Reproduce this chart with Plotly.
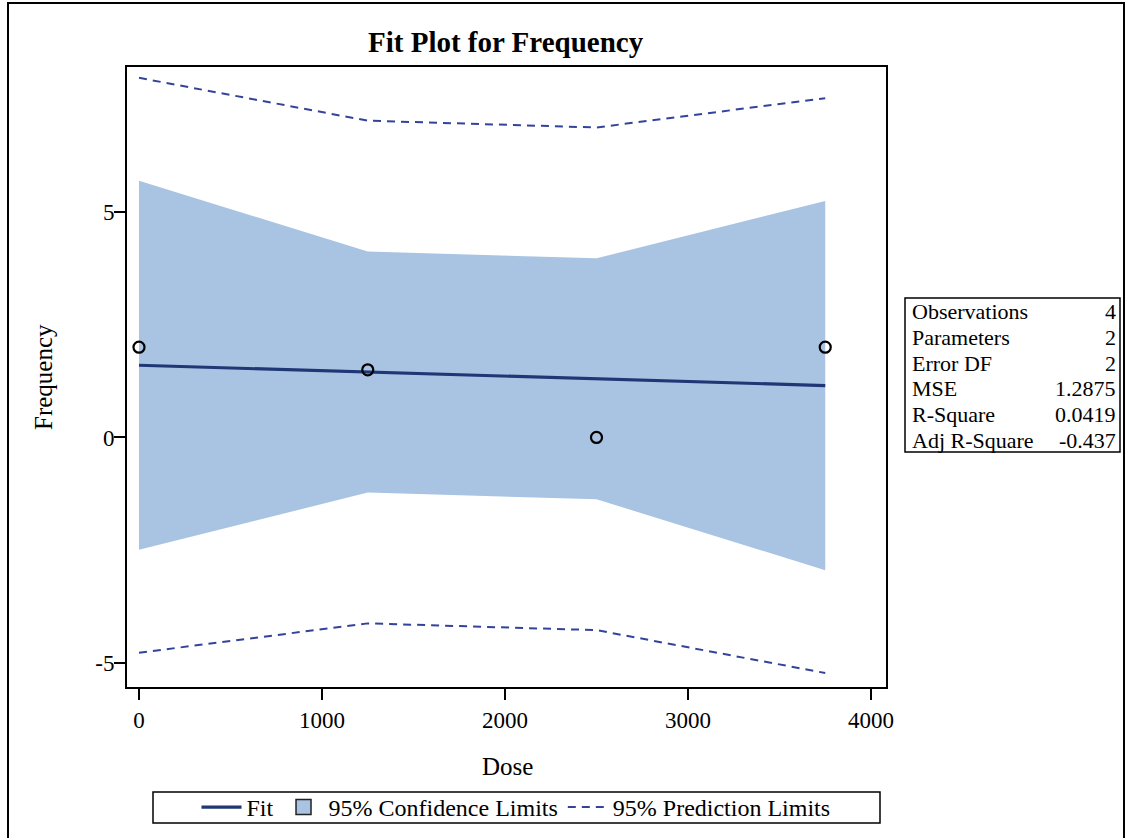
import plotly.graph_objects as go

# ---- data ----
dose = [0, 1250, 2500, 3750]
frequency = [2.0, 1.5, 0.0, 2.0]
fit = [1.60, 1.45, 1.30, 1.15]
ci_upper = [5.69, 4.12, 3.97, 5.24]
ci_lower = [-2.49, -1.22, -1.37, -2.94]
pi_upper = [7.97, 7.02, 6.87, 7.52]
pi_lower = [-4.77, -4.12, -4.27, -5.22]

x_ticks = [0, 1000, 2000, 3000, 4000]
y_ticks = [-5, 0, 5]
y_tick_text = ["-5", "0", "5"]

stat_labels = ["Observations", "Parameters", "Error DF", "MSE", "R-Square", "Adj R-Square"]
stat_values = ["4", "2", "2", "1.2875", "0.0419", "-0.437"]

FONT = "Liberation Serif, Times New Roman, serif"
FIT_COLOR = "#1f3774"
PI_COLOR = "#34439a"
CI_FILL = "#a9c4e3"

W, H = 1126, 838
L, R, T, B = 127, 886, 67, 687  # plot area in pixels


def px(xp):
    return (xp - L) / (R - L)


def py(yp):
    return (B - yp) / (B - T)


fig = go.Figure()

fig.add_trace(go.Scatter(x=dose, y=ci_lower, mode="lines",
                         line=dict(width=0, color=CI_FILL),
                         showlegend=False, hoverinfo="skip"))
fig.add_trace(go.Scatter(x=dose, y=ci_upper, mode="lines", fill="tonexty",
                         fillcolor=CI_FILL, line=dict(width=0, color=CI_FILL),
                         name="95% Confidence Limits", legendgroup="ci", showlegend=False))
fig.add_trace(go.Scatter(x=dose, y=pi_upper, mode="lines",
                         line=dict(color=PI_COLOR, width=2, dash="8px,6px"),
                         name="95% Prediction Limits", legendgroup="pi", legendrank=3))
fig.add_trace(go.Scatter(x=dose, y=pi_lower, mode="lines",
                         line=dict(color=PI_COLOR, width=2, dash="8px,6px"),
                         name="95% Prediction Limits", legendgroup="pi", showlegend=False))
fig.add_trace(go.Scatter(x=dose, y=fit, mode="lines",
                         line=dict(color=FIT_COLOR, width=3.2),
                         name="Fit", legendrank=1))
fig.add_trace(go.Scatter(x=dose, y=frequency, mode="markers",
                         marker=dict(symbol="circle-open", size=11, color="black",
                                     line=dict(width=2.2, color="black")),
                         showlegend=False, name="Frequency"))
# legend entry for the confidence band (square swatch like the reference)
fig.add_trace(go.Scatter(x=[None], y=[None], mode="markers",
                         marker=dict(symbol="square", size=15, color=CI_FILL,
                                     line=dict(width=1.5, color="#222222")),
                         name="95% Confidence Limits", legendgroup="ci", legendrank=2))

axis_common = dict(showline=True, linecolor="black", linewidth=2, mirror=True,
                   ticks="outside", ticklen=11, tickwidth=2, tickcolor="black",
                   showgrid=False, zeroline=False,
                   tickfont=dict(family=FONT, size=23, color="black"))

fig.update_xaxes(range=[-65.6, 4082], tickvals=x_ticks, **axis_common)
fig.update_yaxes(range=[-5.53, 8.21], tickvals=y_ticks, ticktext=y_tick_text,
                 ticklabelstandoff=-5, **axis_common)

shapes = [
    # outer border of the graph
    dict(type="rect", xref="paper", yref="paper",
         x0=px(8), x1=px(1124), y0=py(845), y1=py(3),
         line=dict(color="black", width=2), fillcolor="rgba(0,0,0,0)"),
    # statistics inset box
    dict(type="rect", xref="paper", yref="paper",
         x0=px(905), x1=px(1120), y0=py(452), y1=py(298),
         line=dict(color="black", width=1.5), fillcolor="white"),
    # legend frame
    dict(type="rect", xref="paper", yref="paper",
         x0=px(153), x1=px(880), y0=py(823), y1=py(792),
         line=dict(color="black", width=1.5), fillcolor="rgba(0,0,0,0)"),
]

annotations = [
    dict(text="<b>Fit Plot for Frequency</b>", xref="paper", yref="paper",
         x=px(506), y=py(42), xanchor="center", yanchor="middle", showarrow=False,
         font=dict(family=FONT, size=29, color="black")),
    dict(text="Dose", xref="paper", yref="paper",
         x=px(507), y=py(767), xanchor="center", yanchor="middle", showarrow=False,
         font=dict(family=FONT, size=25, color="black")),
    dict(text="Frequency", xref="paper", yref="paper", textangle=-90,
         x=px(43), y=py(377), xanchor="center", yanchor="middle", showarrow=False,
         font=dict(family=FONT, size=25, color="black")),
]

row_top, row_h = 298, 154 / 6
for i, (lab, val) in enumerate(zip(stat_labels, stat_values)):
    yc = row_top + row_h * (i + 0.5) + 1
    annotations.append(dict(text=lab, xref="paper", yref="paper", x=px(910), y=py(yc),
                            xanchor="left", yanchor="middle", showarrow=False,
                            font=dict(family=FONT, size=22, color="black")))
    annotations.append(dict(text=val, xref="paper", yref="paper", x=px(1118), y=py(yc),
                            xanchor="right", yanchor="middle", showarrow=False,
                            font=dict(family=FONT, size=22, color="black")))

fig.update_layout(
    width=W, height=H,
    margin=dict(l=L, r=W - R, t=T, b=H - B, autoexpand=False),
    paper_bgcolor="white", plot_bgcolor="white",
    shapes=shapes, annotations=annotations,
    legend=dict(orientation="h", x=px(516), y=py(807.5), xanchor="center", yanchor="middle",
                borderwidth=0, bgcolor="rgba(0,0,0,0)",
                font=dict(family=FONT, size=24, color="black"),
                itemwidth=40, tracegroupgap=0, traceorder="normal"),
    showlegend=True,
)

fig.write_html("out.html")
